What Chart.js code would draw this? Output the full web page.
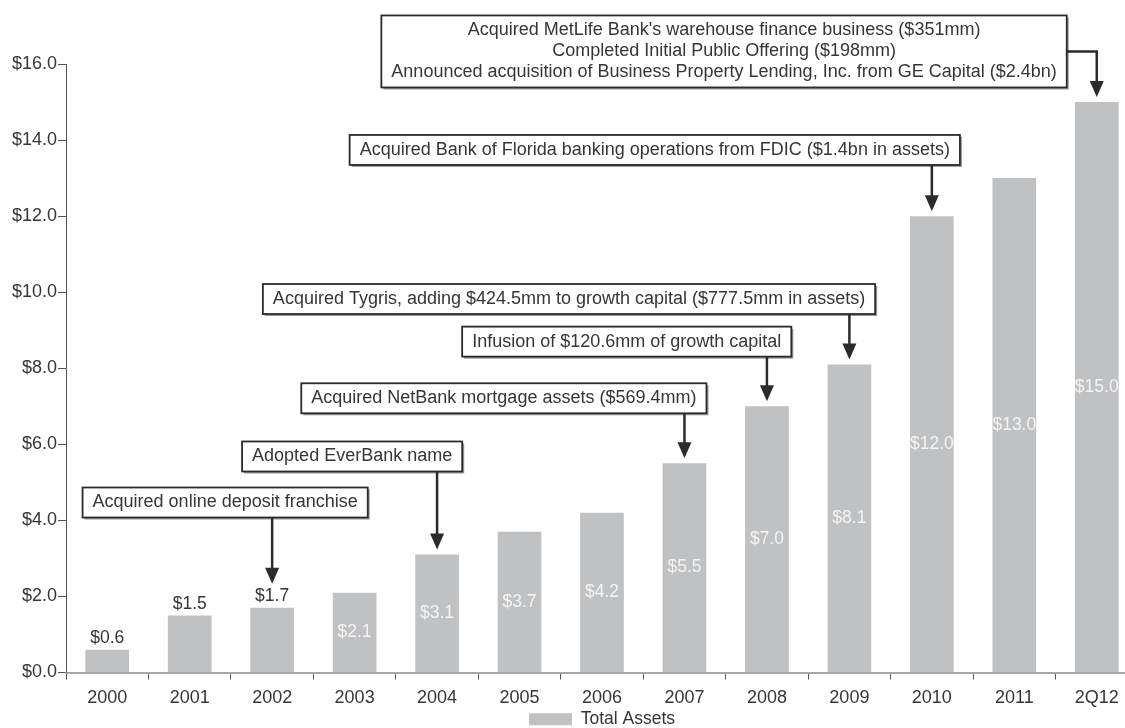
<!DOCTYPE html>
<html>
<head>
<meta charset="utf-8">
<script src="https://cdn.jsdelivr.net/npm/chart.js@4.4.0/dist/chart.umd.min.js"></script>
<style>
  html, body { margin: 0; padding: 0; background: #fff; overflow: hidden; }
  #wrap { position: absolute; left: 0; top: 0; width: 1140px; height: 738px; }
</style>
</head>
<body>
<div id="wrap"><canvas id="assets"></canvas></div>
<script>
// data ($bn)
const categories = ["2000", "2001", "2002", "2003", "2004", "2005", "2006", "2007", "2008", "2009", "2010", "2011", "2Q12"];
const totalAssets = [0.6, 1.5, 1.7, 2.1, 3.1, 3.7, 4.2, 5.5, 7.0, 8.1, 12.0, 13.0, 15.0];
const yTicks = [0, 2, 4, 6, 8, 10, 12, 14, 16];
const labelAbove = ["2000", "2001", "2002"];

// milestones: which bar each one points at, and its text
const eventCategories = ["2002", "2004", "2007", "2008", "2009", "2010", "2Q12"];
const eventTexts = [
  ["Acquired online deposit franchise"],
  ["Adopted EverBank name"],
  ["Acquired NetBank mortgage assets ($569.4mm)"],
  ["Infusion of $120.6mm of growth capital"],
  ["Acquired Tygris, adding $424.5mm to growth capital ($777.5mm in assets)"],
  ["Acquired Bank of Florida banking operations from FDIC ($1.4bn in assets)"],
  ["Acquired MetLife Bank's warehouse finance business ($351mm)",
   "Completed Initial Public Offering ($198mm)",
   "Announced acquisition of Business Property Lending, Inc. from GE Capital ($2.4bn)"]
];

// box placement in axis units (category index, value), not data
const boxLayout = [
  { cx: 1.43, cy: 4.47 },
  { cx: 2.97, cy: 5.68 },
  { cx: 4.81, cy: 7.21 },
  { cx: 6.30, cy: 8.70 },
  { cx: 5.60, cy: 9.82 },
  { cx: 6.64, cy: 13.74 },
  { cx: 7.48, cy: 16.33, side: true }
];

const FAMILY = "'Liberation Sans', Arial, sans-serif";
const FONT = "18px " + FAMILY;
const LABEL_FONT = "17.5px " + FAMILY;
const TEXT = "#363636";
const BAR = "#c0c1c3";

const money = v => "$" + Number(v).toFixed(1);

const barLabels = {
  id: "barLabels",
  afterDatasetsDraw(chart) {
    const ctx = chart.ctx;
    const meta = chart.getDatasetMeta(0);
    ctx.save();
    ctx.font = LABEL_FONT;
    ctx.textAlign = "center";
    meta.data.forEach((bar, i) => {
      const txt = money(totalAssets[i]);
      if (labelAbove.includes(categories[i])) {
        ctx.fillStyle = TEXT;
        ctx.textBaseline = "bottom";
        ctx.fillText(txt, bar.x, bar.y - 3);
      } else {
        ctx.fillStyle = "#f4f4f4";
        ctx.textBaseline = "middle";
        ctx.fillText(txt, bar.x, (bar.y + bar.base) / 2);
      }
    });
    ctx.restore();
  }
};

function arrowHead(ctx, x, tipY) {
  ctx.beginPath();
  ctx.moveTo(x - 7, tipY - 16);
  ctx.lineTo(x + 7, tipY - 16);
  ctx.lineTo(x, tipY);
  ctx.closePath();
  ctx.fill();
}

const milestones = {
  id: "milestones",
  afterDatasetsDraw(chart) {
    const { ctx, scales: { x, y } } = chart;
    ctx.save();
    ctx.font = FONT;
    eventCategories.forEach((cat, i) => {
      const lines = eventTexts[i];
      const box = boxLayout[i];
      const idx = categories.indexOf(cat);
      const w = Math.max(...lines.map(l => ctx.measureText(l).width)) + 20;
      const h = lines.length * 21 + 9;
      const cx = x.getPixelForValue(box.cx);
      const cy = y.getPixelForValue(box.cy);
      const left = cx - w / 2, top = cy - h / 2;

      // box with a soft shadow
      ctx.fillStyle = "#9a9a9a";
      ctx.fillRect(left + 2, top + 2, w, h);
      ctx.fillStyle = "#fff";
      ctx.fillRect(left, top, w, h);
      ctx.strokeStyle = "#2b2b2b";
      ctx.lineWidth = 1.8;
      ctx.strokeRect(left, top, w, h);

      ctx.fillStyle = TEXT;
      ctx.textAlign = "center";
      ctx.textBaseline = "middle";
      lines.forEach((l, k) => {
        ctx.fillText(l, cx, top + 4.5 + 10.5 + k * 21);
      });

      // arrow to the bar
      const ax = x.getPixelForValue(idx);
      const gap = labelAbove.includes(cat) ? 24 : 5;
      const tipY = y.getPixelForValue(totalAssets[idx]) - gap;
      ctx.strokeStyle = "#2b2b2b";
      ctx.fillStyle = "#2b2b2b";
      ctx.lineWidth = 2.5;
      ctx.beginPath();
      if (box.side) {
        ctx.moveTo(left + w, cy);
        ctx.lineTo(ax, cy);
        ctx.lineTo(ax, tipY - 14);
      } else {
        ctx.moveTo(ax, top + h);
        ctx.lineTo(ax, tipY - 14);
      }
      ctx.stroke();
      arrowHead(ctx, ax, tipY);
    });
    ctx.restore();
  }
};

Chart.defaults.font.family = FAMILY;
Chart.defaults.font.size = 18;
Chart.defaults.color = TEXT;

new Chart(document.getElementById("assets"), {
  type: "bar",
  data: {
    labels: categories,
    datasets: [{
      label: "Total Assets",
      data: totalAssets,
      backgroundColor: BAR,
      borderWidth: 0,
      categoryPercentage: 1,
      barPercentage: 0.53
    }]
  },
  options: {
    responsive: true,
    maintainAspectRatio: false,
    animation: false,
    layout: { padding: { top: 64, right: 2, left: 0, bottom: 0 } },
    plugins: {
      legend: {
        position: "bottom",
        fullSize: false,
        labels: { boxWidth: 43, boxHeight: 12, padding: 2, color: TEXT, font: { size: 17.5 } }
      },
      tooltip: { enabled: false }
    },
    scales: {
      x: {
        grid: { offset: true, drawOnChartArea: false, tickLength: 7, color: "#555" },
        border: { color: "#a8a8a8", width: 2 },
        ticks: { padding: 8, color: TEXT, maxRotation: 0 },
        afterFit: s => { s.height = 36; }
      },
      y: {
        min: 0,
        max: 16,
        afterBuildTicks: s => { s.ticks = yTicks.map(v => ({ value: v })); },
        grid: { drawOnChartArea: false, tickLength: 8, color: "#555" },
        border: { color: "#555", width: 1 },
        ticks: { padding: 1, color: TEXT, callback: v => money(v) },
        afterFit: s => { s.width = 66; }
      }
    }
  },
  plugins: [barLabels, milestones]
});
</script>
</body>
</html>
